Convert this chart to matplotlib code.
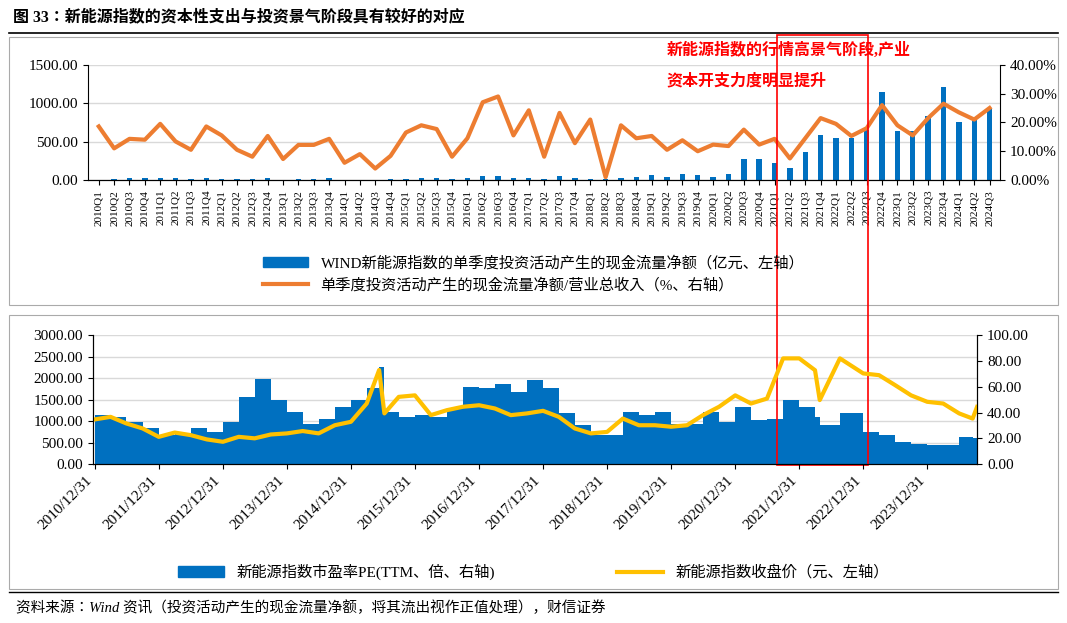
import matplotlib
matplotlib.use("Agg")
import matplotlib.pyplot as plt
import matplotlib.patches as mpatches
from matplotlib.lines import Line2D
from matplotlib import font_manager
import pandas as pd
import numpy as np

avail = {f.name for f in font_manager.fontManager.ttflist}
cjk = [n for n in ["Noto Sans CJK SC", "Noto Sans CJK JP", "Noto Serif CJK SC", "Noto Sans CJK TC", "Noto Sans CJK KR"] if n in avail]
plt.rcParams['font.family'] = ['Liberation Serif'] + cjk + ['DejaVu Sans']
CJKFONT = ['Liberation Serif'] + cjk

quarters = [f"{y}Q{q}" for y in range(2010, 2025) for q in range(1, 5)][:59]
capex = [5, 8, 25, 30, 28, 25, 10, 25, 8, 10, 12, 28, 5, 8, 10, 28, 5, 5, 5, 8,
         8, 25, 30, 10, 30, 50, 50, 30, 30, 10, 50, 30, 20, 20, 25, 45, 65, 45, 85, 65,
         45, 85, 280, 280, 225, 160, 360, 580, 545, 545, 655, 1145, 640, 640, 835, 1210, 760, 785, 920]
ratio = [18.6, 11, 14.3, 14, 19.5, 13.4, 10.5, 18.6, 15.5, 10.5, 8.1, 15.3, 7.3, 12.2, 12.2, 14.3,
         6, 9, 4, 8.4, 16.5, 19, 17.7, 8.1, 14.5, 27, 29, 15.5, 24.2, 8.1, 23.3, 12.8,
         21, 1, 19, 14.5, 15.3, 10.5, 13.8, 10, 12.3, 11.8, 17.5, 12.3, 14.3, 7.5, 14.5, 21.5,
         19.5, 15.3, 18, 26, 19, 15.5, 21.5, 26.5, 23.5, 21, 25]

dates = ["2010-12-31", "2011-03-31", "2011-06-30", "2011-09-30", "2011-12-31",
         "2012-03-31", "2012-06-30", "2012-09-30", "2012-12-31",
         "2013-03-31", "2013-06-30", "2013-09-30", "2013-12-31",
         "2014-03-31", "2014-06-30", "2014-09-30", "2014-12-31",
         "2015-03-31", "2015-06-10", "2015-07-10", "2015-09-30", "2015-12-31",
         "2016-03-31", "2016-06-30", "2016-09-30", "2016-12-31",
         "2017-03-31", "2017-06-30", "2017-09-30", "2017-12-31",
         "2018-03-31", "2018-06-30", "2018-09-30", "2018-12-31",
         "2019-03-31", "2019-06-30", "2019-09-30", "2019-12-31",
         "2020-03-31", "2020-06-30", "2020-09-30", "2020-12-31",
         "2021-03-31", "2021-06-30", "2021-09-30", "2021-12-31",
         "2022-03-31", "2022-04-27", "2022-08-20", "2022-12-31",
         "2023-03-31", "2023-06-30", "2023-09-30", "2023-12-31",
         "2024-03-31", "2024-06-30", "2024-09-15", "2024-10-10"]
price = [1040, 1100, 945, 830, 635, 735, 675, 575, 520, 635, 600, 690, 715,
         770, 715, 905, 985, 1410, 2190, 1180, 1565, 1600,
         1140, 1255, 1335, 1370, 1295, 1140, 1180, 1240,
         1100, 830, 715, 750, 1060, 905, 905, 870,
         905, 1140, 1335, 1600, 1410, 1525, 2460, 2460,
         2185, 1490, 2460, 2110, 2070, 1840, 1600, 1450,
         1410, 1180, 1060, 1330]
pe = [38, 36.7, 32.8, 27.7, 22.5, 23.8, 27.7, 25, 32.8, 52, 66, 50, 40.5,
      31.5, 35.3, 44.5, 49.7, 58.7, 75.5, 40.5, 36.7, 38,
      36.7, 43.2, 60, 58.7, 62.5, 56, 65, 58.7,
      39.3, 30.2, 22.5, 22.5, 40.5, 38, 40.5, 31.5,
      31.5, 40.5, 32.8, 44.5, 34.2, 35.3, 49.7, 44.5,
      36.7, 30.2, 39.3, 25, 22.5, 17.3, 16, 14.7,
      14.7, 21.2, 20, 25]

blue = "#0070C0"; orange = "#ED7D31"; gold = "#FFC000"

fig = plt.figure(figsize=(10.67, 6.23), dpi=100)
fig.text(0.012, 0.972, "图 33：新能源指数的资本性支出与投资景气阶段具有较好的对应",
         fontsize=11.5, fontweight='bold', family=CJKFONT, va='center')
fig.add_artist(Line2D([0.008, 0.992], [0.947, 0.947], color='black', lw=1.2))
fig.add_artist(mpatches.Rectangle((0.008, 0.51), 0.984, 0.43, fill=False, ec='#aaaaaa', lw=0.8))
fig.add_artist(mpatches.Rectangle((0.008, 0.055), 0.984, 0.44, fill=False, ec='#aaaaaa', lw=0.8))

# top chart
ax = fig.add_axes([0.0825, 0.711, 0.855, 0.185])
x = np.arange(len(quarters))
ax.bar(x, capex, width=0.35, color=blue, zorder=2)
ax.set_ylim(0, 1500)
ax.set_yticks(np.arange(0, 1501, 500))
ax.set_yticklabels([f"{v:.2f}" for v in range(0, 1501, 500)], fontsize=11)
ax.set_xlim(-0.7, len(quarters) - 0.3)
ax.set_xticks(x)
ax.set_xticklabels(quarters, rotation=90, fontsize=8)
ax.grid(axis='y', color='#d9d9d9', lw=1, zorder=0)
for s in ['top', 'right']:
    ax.spines[s].set_visible(False)
ax2 = ax.twinx()
ax2.plot(x, ratio, color=orange, lw=3, zorder=3)
ax2.set_ylim(0, 40)
ax2.set_yticks(np.arange(0, 41, 10))
ax2.set_yticklabels([f"{v:.2f}%" for v in range(0, 41, 10)], fontsize=11)
ax2.spines['top'].set_visible(False)
ax2.spines['left'].set_visible(False)
h1 = mpatches.Patch(color=blue)
h2 = Line2D([], [], color=orange, lw=3)
fig.legend([h1, h2], ["WIND新能源指数的单季度投资活动产生的现金流量净额（亿元、左轴）",
                      "单季度投资活动产生的现金流量净额/营业总收入（%、右轴）"],
           loc='center', bbox_to_anchor=(0.5, 0.56), frameon=False, ncol=1,
           prop={'family': CJKFONT, 'size': 11}, handlelength=3, labelspacing=0.5)

# bottom chart
bx = fig.add_axes([0.087, 0.255, 0.829, 0.207])
d = pd.to_datetime(dates)
bx2 = bx.twinx()
bx2.fill_between(d, pe, 0, color=blue, step='post', lw=0, zorder=1)
bx2.set_ylim(0, 100)
bx2.set_yticks(np.arange(0, 101, 20))
bx2.set_yticklabels([f"{v:.2f}" for v in range(0, 101, 20)], fontsize=11)
bx.set_zorder(bx2.get_zorder() + 1)
bx.patch.set_visible(False)
bx.plot(d, price, color=gold, lw=3)
bx.set_ylim(0, 3000)
bx.set_yticks(np.arange(0, 3001, 500))
bx.set_yticklabels([f"{v:.2f}" for v in range(0, 3001, 500)], fontsize=11)
bx.set_xlim(pd.Timestamp("2010-12-20"), pd.Timestamp("2024-10-12"))
ticks = pd.to_datetime([f"{y}-12-31" for y in range(2010, 2024)])
bx.set_xticks(ticks)
bx.set_xticklabels([f"{y}/12/31" for y in range(2010, 2024)], rotation=45, ha='right', fontsize=11)
for yv in range(500, 3001, 500):
    bx2.axhline(yv / 30, color='#d9d9d9', lw=1, zorder=0)
for a in (bx, bx2):
    a.spines['top'].set_visible(False)
h3 = mpatches.Patch(color=blue)
h4 = Line2D([], [], color=gold, lw=3)
fig.legend([h3, h4], ["新能源指数市盈率PE(TTM、倍、右轴)", "新能源指数收盘价（元、左轴）"],
           loc='center', bbox_to_anchor=(0.5, 0.082), frameon=False, ncol=2, columnspacing=8,
           prop={'family': CJKFONT, 'size': 11}, handlelength=3)

# red annotation box
fig.add_artist(mpatches.Rectangle((777 / 1067, 1 - 465 / 623), 91 / 1067, 430 / 623,
                                  fill=False, ec='red', lw=1.2))
fig.text(0.625, 0.918, "新能源指数的行情高景气阶段,产业", color='red', fontsize=11.5,
         fontweight='bold', family=CJKFONT, va='center')
fig.text(0.625, 0.87, "资本开支力度明显提升", color='red', fontsize=11.5,
         fontweight='bold', family=CJKFONT, va='center')

fig.add_artist(Line2D([0.008, 0.992], [0.05, 0.05], color='black', lw=1))
fig.text(0.015, 0.025, "资料来源：Wind 资讯（投资活动产生的现金流量净额，将其流出视作正值处理），财信证券",
         fontsize=10.5, style='italic', family=CJKFONT, va='center')

fig.savefig("out.png", dpi=100)
